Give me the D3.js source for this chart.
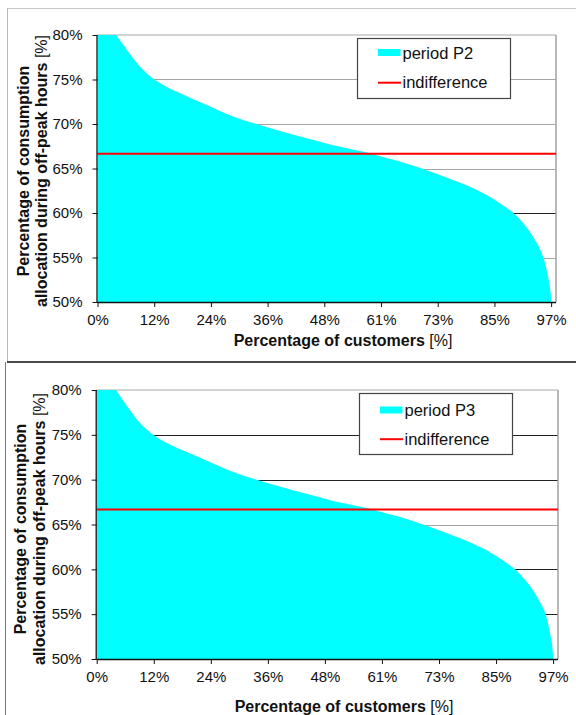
<!DOCTYPE html>
<html><head><meta charset="utf-8">
<script src="https://cdn.jsdelivr.net/npm/d3@7"></script>
<style>body{margin:0;background:#fff;} svg{display:block;font-family:"Liberation Sans",Arial,sans-serif;}</style>
</head><body><svg id="c" width="576" height="715"></svg>
<script>
// ---- data ----
const customersPct = [0, 1, 2, 3, 4, 5.5, 7, 8.5, 10.0, 11.6, 13.2, 15.0, 17.7, 20, 22, 25, 29, 34, 38.5, 43.3, 47, 50.4, 54, 57.6, 61, 64.7, 69, 73, 76.5, 79.6, 81.8, 83.9, 85.3, 86.7, 88.9, 90.8, 92.5, 93.7, 94.6, 95.3, 96.0, 96.5, 96.8, 97.0];
const allocP2 = [86, 83.5, 82, 80.9, 80.0, 78.9, 77.8, 76.8, 75.95, 75.2, 74.65, 74.1, 73.45, 72.9, 72.45, 71.75, 70.85, 70.0, 69.3, 68.6, 68.1, 67.6, 67.2, 66.8, 66.3, 65.8, 65.05, 64.3, 63.6, 62.95, 62.4, 61.8, 61.35, 60.85, 60.0, 58.95, 57.8, 56.8, 55.9, 55.0, 53.6, 52.3, 51.3, 50.0];
const allocP3 = [86, 83.6, 82.1, 81.0, 80.1, 78.9, 77.8, 76.75, 75.9, 75.15, 74.6, 74.05, 73.4, 72.9, 72.45, 71.75, 70.85, 70.0, 69.3, 68.6, 68.1, 67.6, 67.2, 66.8, 66.3, 65.8, 65.05, 64.3, 63.6, 62.95, 62.4, 61.8, 61.35, 60.85, 60.0, 58.95, 57.8, 56.8, 55.9, 55.1, 53.7, 52.4, 51.4, 50.0];
const seriesNames = ["period P2", "period P3"];
const indifferenceName = "indifference";
const indifferenceValue = 66.67;
const yTicks = [50, 55, 60, 65, 70, 75, 80];
const yTickLabels = ["50%", "55%", "60%", "65%", "70%", "75%", "80%"];
const xTicks = [0, 12.12, 24.24, 36.36, 48.48, 60.6, 72.72, 84.84, 96.96];
const xTickLabels = ["0%", "12%", "24%", "36%", "48%", "61%", "73%", "85%", "97%"];
const xTitle = "Percentage of customers";
const yTitle1 = "Percentage of consumption";
const yTitle2 = "allocation during off-peak hours";
const unitSuffix = " [%]";

const svg = d3.select("#c");

// panel frames
svg.append("line").attr("x1", 7).attr("x2", 576).attr("y1", 8.5).attr("y2", 8.5).attr("stroke", "#c8c8c8");
svg.append("line").attr("x1", 7.5).attr("x2", 7.5).attr("y1", 8).attr("y2", 362).attr("stroke", "#b8b8b8");
svg.append("line").attr("x1", 7).attr("x2", 576).attr("y1", 362).attr("y2", 362).attr("stroke", "#111").attr("stroke-width", 1.6);
svg.append("line").attr("x1", 5.5).attr("x2", 5.5).attr("y1", 362).attr("y2", 715).attr("stroke", "#777");

function panel(cfg, values, name, idx) {
  const g = svg.append("g");
  const x = d3.scaleLinear().domain([0, 98]).range([cfg.left, cfg.right]);
  const y = d3.scaleLinear().domain([50, 80]).range([cfg.bottom, cfg.top]);
  const data = customersPct.map((c, i) => ({x: c, y: values[i]}));

  const clipId = "clip" + idx;
  g.append("clipPath").attr("id", clipId).append("rect")
    .attr("x", cfg.left).attr("y", cfg.top).attr("width", cfg.right - cfg.left).attr("height", cfg.bottom - cfg.top);

  // gridlines
  g.append("g").selectAll("line").data(yTicks.filter(v => v > 50 && v < 80)).join("line")
    .attr("x1", cfg.left).attr("x2", cfg.right)
    .attr("y1", d => Math.round(y(d)) + 0.5).attr("y2", d => Math.round(y(d)) + 0.5)
    .attr("stroke", d => cfg.darkGrid.includes(d) ? "#222" : "#a6a6a6").attr("stroke-width", 1.2);
  // top and right border
  g.append("line").attr("x1", cfg.left).attr("x2", cfg.right).attr("y1", y(80)).attr("y2", y(80)).attr("stroke", "#a8a8a8").attr("stroke-width", 1.2);
  g.append("line").attr("x1", cfg.right).attr("x2", cfg.right).attr("y1", cfg.top).attr("y2", cfg.bottom).attr("stroke", "#a0a0a0").attr("stroke-width", 1.5);

  // area
  const area = d3.area().curve(d3.curveMonotoneX).x(d => x(d.x)).y0(y(50)).y1(d => y(d.y));
  g.append("path").datum(data).attr("d", area).attr("fill", "#00ffff").attr("clip-path", `url(#${clipId})`);

  // indifference line
  g.append("line").attr("x1", cfg.left).attr("x2", cfg.right)
    .attr("y1", y(indifferenceValue)).attr("y2", y(indifferenceValue))
    .attr("stroke", "#ff0000").attr("stroke-width", 2);

  // axes
  const yAxis = d3.axisLeft(y).tickValues(yTicks).tickFormat((d, i) => yTickLabels[i]).tickSize(5).tickPadding(10);
  const ya = g.append("g").attr("transform", `translate(${cfg.left},0)`).call(yAxis);
  const xAxis = d3.axisBottom(x).tickValues(xTicks).tickFormat((d, i) => xTickLabels[i]).tickSize(5).tickPadding(7);
  const xa = g.append("g").attr("transform", `translate(0,${cfg.bottom})`).call(xAxis);
  [ya, xa].forEach(a => {
    a.select(".domain").attr("stroke", "#111").attr("stroke-width", 1.3);
    a.selectAll(".tick line").attr("stroke", "#111");
    a.selectAll("text").attr("font-size", 15).attr("fill", "#111").attr("font-family", "Liberation Sans, Arial, sans-serif");
  });
  xa.select(".domain").attr("d", `M${cfg.left},0.5H${cfg.right}`);
  ya.select(".domain").attr("d", `M-0.5,${cfg.top}V${cfg.bottom}`);

  // x title
  const xt = g.append("text").attr("x", cfg.xTitleX).attr("y", cfg.xTitleY).attr("text-anchor", "middle")
    .attr("font-size", 16).attr("fill", "#111");
  xt.append("tspan").attr("font-weight", "bold").text(xTitle);
  xt.append("tspan").text(unitSuffix);

  // y title
  g.append("text").attr("transform", `translate(${cfg.yTitleX[0]},${cfg.yTitleCY}) rotate(-90)`)
    .attr("text-anchor", "middle").attr("font-size", 16).attr("font-weight", "bold").attr("fill", "#111").text(yTitle1);
  const yt2 = g.append("text").attr("transform", `translate(${cfg.yTitleX[1]},${cfg.yTitleCY}) rotate(-90)`)
    .attr("text-anchor", "middle").attr("font-size", 16).attr("fill", "#111");
  yt2.append("tspan").attr("font-weight", "bold").text(yTitle2);
  yt2.append("tspan").text(unitSuffix);

  // legend
  const L = cfg.legend;
  const lg = g.append("g").attr("transform", `translate(${L.x},${L.y})`);
  lg.append("rect").attr("x", 0.5).attr("y", 0.5).attr("width", L.w).attr("height", L.h)
    .attr("fill", "#fff").attr("stroke", "#444").attr("stroke-width", 1.2);
  lg.append("rect").attr("x", 21).attr("y", L.sy).attr("width", 22.5).attr("height", 7).attr("fill", "#00ffff");
  lg.append("text").attr("x", 45.5).attr("y", L.t1).attr("font-size", 16.5).attr("fill", "#111").text(name);
  lg.append("line").attr("x1", 21).attr("x2", 44).attr("y1", L.ry).attr("y2", L.ry).attr("stroke", "#ff0000").attr("stroke-width", 2);
  lg.append("text").attr("x", 45.5).attr("y", L.t2).attr("font-size", 16.5).attr("fill", "#111").text(indifferenceName);
}

panel({left: 97.5, right: 556, top: 35, bottom: 302, darkGrid: [60],
  xTitleX: 343, xTitleY: 346, yTitleX: [28.5, 46.5], yTitleCY: 171,
  legend: {x: 357, y: 38, w: 153, h: 60, sy: 11, t1: 20.5, ry: 44.7, t2: 50.3}}, allocP2, seriesNames[0], 0);

panel({left: 96.7, right: 558, top: 390, bottom: 659, darkGrid: [55, 60, 70, 75],
  xTitleX: 344, xTitleY: 712, yTitleX: [25.5, 45], yTitleCY: 529,
  legend: {x: 359, y: 393, w: 153, h: 61, sy: 13.5, t1: 22.8, ry: 46.2, t2: 52}}, allocP3, seriesNames[1], 1);
</script>
</body></html>
